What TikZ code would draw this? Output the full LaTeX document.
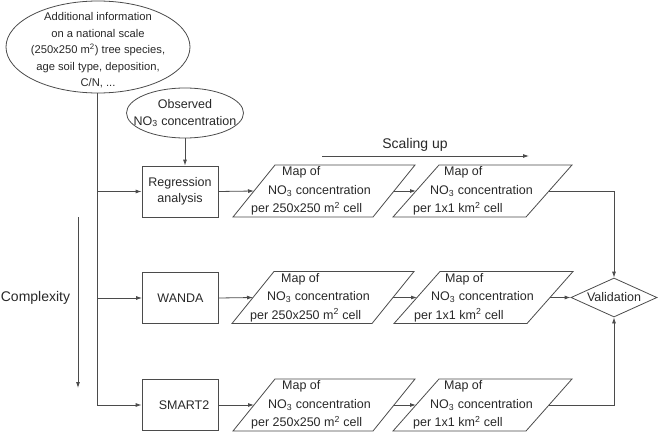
\documentclass[tikz,border=0pt]{standalone}
\usepackage{fontspec}
\setmainfont{Liberation Sans}
\usetikzlibrary{shapes.geometric,arrows.meta}
\definecolor{lc}{RGB}{75,75,75}
\definecolor{tc}{RGB}{40,40,40}
\newcommand\mapA{\hspace*{31pt}Map of\\\hspace*{17pt}NO\textsubscript{3} concentration\\per 250x250 m\textsuperscript{2} cell}
\newcommand\mapB{\hspace*{31pt}Map of\\\hspace*{17pt}NO\textsubscript{3} concentration\\per 1x1 km\textsuperscript{2} cell}
\begin{document}
\begin{tikzpicture}[x=1pt,y=-1pt,
  every node/.style={text=tc},
  line/.style={draw=lc, line width=0.8pt},
  arr/.style={line, -{Latex[length=6pt,width=4pt]}},
  procbox/.style={draw=lc, line width=0.8pt, minimum width=76pt, minimum height=51pt, inner sep=0pt, font=\fontsize{12.5}{16}\selectfont, align=center},
  mapt/.style={inner sep=0pt, align=left, anchor=west, font=\fontsize{12.5}{18.5}\selectfont},
  ell/.style={draw=lc, line width=0.8pt, ellipse, align=center},
  label/.style={font=\fontsize{14}{16}\selectfont, inner sep=0pt}
]
\useasboundingbox (0,0) rectangle (661,439);

% ellipses
\node[ell, minimum width=184pt, minimum height=92pt, inner sep=-12pt, font=\fontsize{11.2}{16.5}\selectfont] (big) at (98,47)
  {\rule{0pt}{15pt}Additional information\\on a national scale\\(250x250 m\textsuperscript{2}) tree species,\\age soil type, deposition,\\C/N, ...};
\node[ell, minimum width=117pt, minimum height=50pt, inner sep=-10pt, font=\fontsize{12.5}{17}\selectfont] (obs) at (185,113)
  {Observed\\NO\textsubscript{3} concentration};

% process boxes
\node[procbox] (reg) at (180,191.5) {Regression\\analysis};
\node[procbox] (wanda) at (180.5,298) {WANDA};
\node[procbox] (smart) at (180,405) {\hspace*{8pt}SMART2};

% map parallelogram texts
\node[mapt] (r1a) at (251,191) {\mapA};
\node[mapt] (r2a) at (250,297.5) {\mapA};
\node[mapt] (r3a) at (251,405) {\mapA};
\node[mapt] (r1b) at (413,191) {\mapB};
\node[mapt] (r2b) at (414,297.5) {\mapB};
\node[mapt] (r3b) at (413,405) {\mapB};

\foreach \n/\pd/\pw/\ps in {r1a/18/140/42, r2a/18/140/42, r3a/18/140/42, r1b/20/133/46, r2b/20/133/46, r3b/20/133/46} {
  \draw[line] ([shift={(-\pd,26)}]\n.west) -- ++(\pw,0) -- ++(\ps,-52) -- ++(-\pw,0) -- cycle;
  \coordinate (\n-in) at ([shift={(-\pd+\ps/2,0)}]\n.west);
  \coordinate (\n-out) at ([shift={(-\pd+\pw+\ps/2,0)}]\n.west);
}

% validation
\node[draw=lc, line width=0.8pt, diamond, aspect=2.2, minimum width=86pt, minimum height=39pt, inner sep=0pt, font=\fontsize{12.5}{16}\selectfont] (val) at (614,297.5) {Validation};

% labels
\node[label] (scal) at (415,145) {Scaling up};
\coordinate (sc1) at (322,156);
\coordinate (sc2) at (529,156);
\draw[arr] (sc1) -- (sc2);
\node[label] (cplx) at (35.5,298) {Complexity};
\coordinate (cx1) at (78,217);
\coordinate (cx2) at (78,388);
\draw[arr] (cx1) -- (cx2);

% connectors
\draw[arr] (big.south -| 97,0) |- (smart.west);
\draw[arr] (97,0 |- reg.west) -- (reg.west);
\draw[arr] (97,0 |- wanda.west) -- (wanda.west);
\draw[arr] (obs.south) -- (obs.south |- reg.north);

\draw[arr] (reg.east) -- (r1a-in);
\draw[arr] (wanda.east) -- (r2a-in);
\draw[arr] (smart.east) -- (r3a-in);
\draw[arr] (r1a-out) -- (r1b-in);
\draw[arr] (r2a-out) -- (r2b-in);
\draw[arr] (r3a-out) -- (r3b-in);

\draw[arr] (r1b-out) -| (val.north);
\draw[arr] (r2b-out) -- (val.west);
\draw[arr] (r3b-out) -| (val.south);
\end{tikzpicture}
\end{document}
